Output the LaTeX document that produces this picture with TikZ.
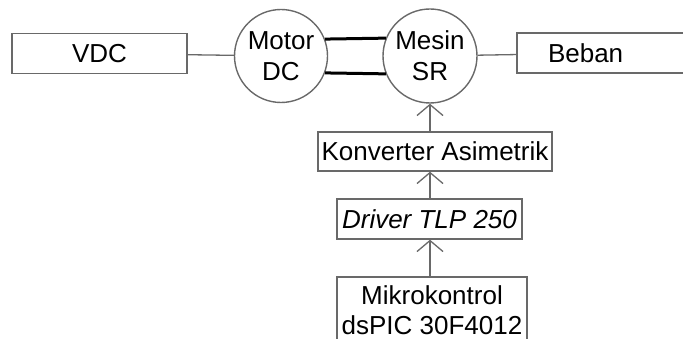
\documentclass[tikz,border=0pt]{standalone}
\usepackage{fontspec}
\setmainfont{Liberation Sans}
\usetikzlibrary{arrows.meta}
\definecolor{linegray}{RGB}{105,105,105}
\begin{document}
\begin{tikzpicture}[x=1pt, y=-1pt,
  blok/.style={draw=linegray, line width=1.4pt, rectangle, inner sep=0pt, font=\fontsize{26}{30}\selectfont},
  mesin/.style={draw=linegray, line width=1.4pt, circle, inner sep=0pt, align=center, font=\fontsize{26}{31}\selectfont},
  panah/.style={draw=linegray, line width=1.3pt, -{Straight Barb[length=11pt, width=26pt, line width=1.3pt]}}]
\useasboundingbox (0,0) rectangle (683,339);
\node[blok, minimum width=175, minimum height=40] (vdc) at (99.5,53.5){VDC};
\node[mesin, minimum size=93] (motor) at (281,56){Motor\\DC};
\node[mesin, minimum size=94] (sr) at (430,56){Mesin\\SR};
\node[blok, minimum height=40, text width=121, inner xsep=31, align=left] (beban) at (608.5,53){Beban};
\draw[draw=linegray, line width=1.3pt](vdc) -- (motor);
\draw[draw=linegray, line width=1.3pt](sr) -- (beban);
\draw[line width=3pt](motor.21.5) -- (sr.158.5);
\draw[line width=3pt](motor.-21.5) -- (sr.-158.5);
\node[blok, minimum width=234, minimum height=39] (konv) at (435,151.5){Konverter Asimetrik};
\node[blok, minimum width=185, minimum height=40] (drv) at (429.5,219){\itshape Driver TLP 250};
\node[blok, minimum width=190, minimum height=66, align=center] (mikro) at (432,310){Mikrokontrol\\dsPIC 30F4012};
\draw[panah](mikro.north -| sr) -- (drv.south -| sr);
\draw[panah](drv.north -| sr) -- (konv.south -| sr);
\draw[panah](konv.north -| sr) -- (sr.south);
\end{tikzpicture}
\end{document}
